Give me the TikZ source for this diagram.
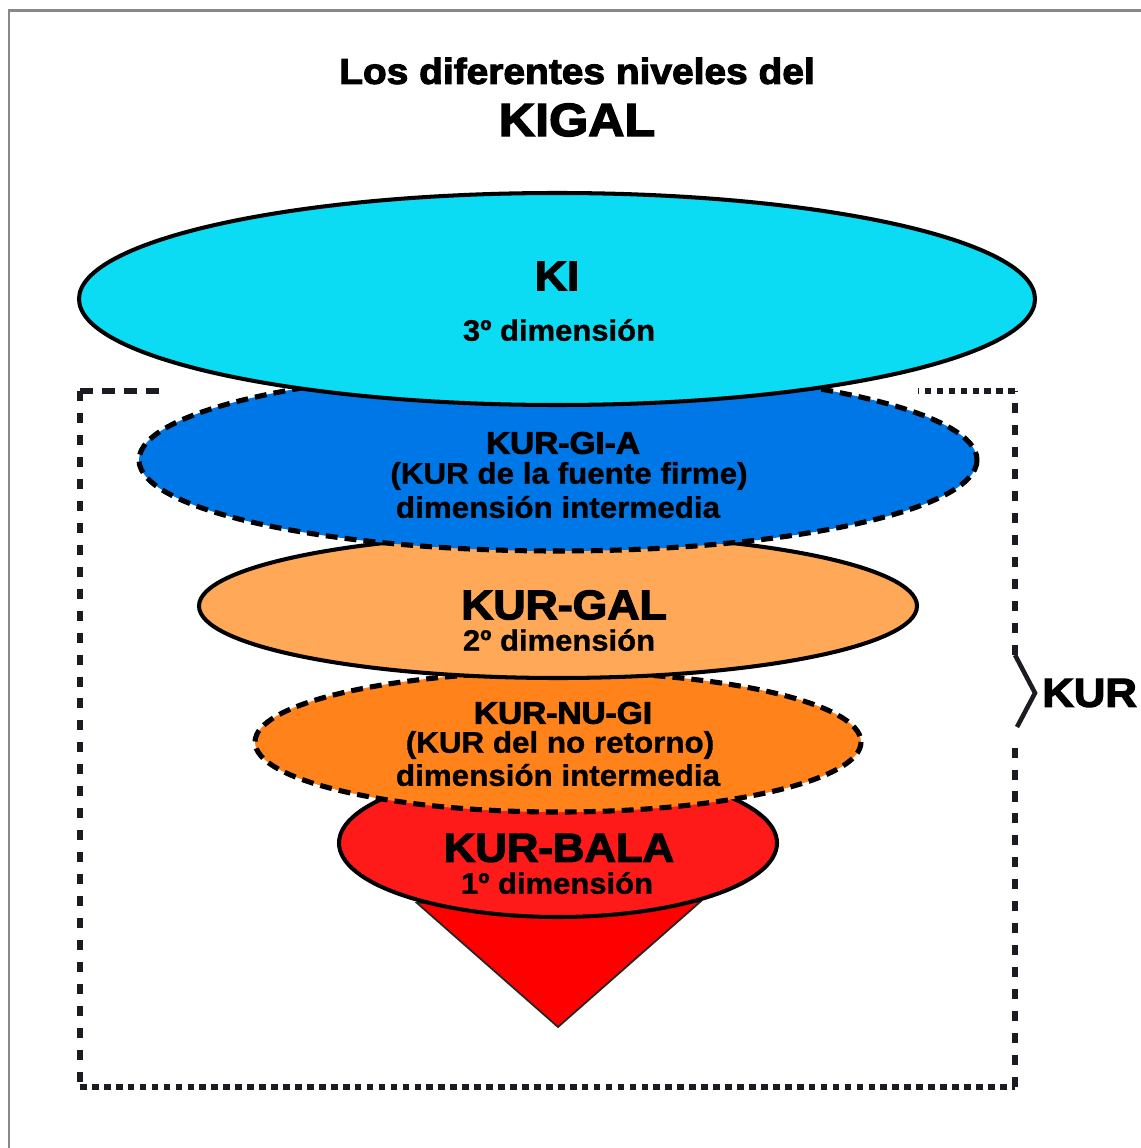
\documentclass[tikz,border=0pt]{standalone}
\usepackage{fontspec}
\setmainfont{Liberation Sans}
\newfontfamily\blk{Liberation Sans}[FakeBold=3,FakeStretch=1.08]
\newfontfamily\subf{Liberation Sans}[FakeBold=1,FakeStretch=1.05]
\definecolor{kicyan}{HTML}{0BDCF4}
\definecolor{kiblue}{HTML}{0077E6}
\definecolor{kipeach}{HTML}{FFA858}
\definecolor{kiorange}{HTML}{FF821A}
\definecolor{kired}{HTML}{FF1A1A}
\definecolor{kitri}{HTML}{FF0000}
\definecolor{boxline}{HTML}{1C1B22}
\definecolor{framegray}{HTML}{888888}
\tikzset{
  solidell/.style={draw=black,line width=2.3pt},
  dashell/.style={draw=black,line width=2.9pt,dash pattern=on 6.8pt off 4pt},
  heavy/.style={inner sep=0pt},
  sub/.style={inner sep=0pt,align=center},
  boxv/.style={draw=boxline,line width=3.2pt,dash pattern=on 5.7pt off 6.8pt},
  boxh/.style={draw=boxline,line width=3.2pt,dash pattern=on 3.8pt off 3pt},
  boxtl/.style={draw=boxline,line width=3.2pt,dash pattern=on 7.5pt off 5pt},
}
\begin{document}
\begin{tikzpicture}[x=0.02cm,y=-0.02cm]
\useasboundingbox (0,0) rectangle (1141,1148);
% frame
\draw[framegray,line width=1.7pt] (9,1148) -- (9,11) -- (1141,11);
% dashed box
\coordinate (btl) at (80,391);
\coordinate (btr) at (1015,391);
\coordinate (bbl) at (80,1087);
\coordinate (bbr) at (1015,1087);
\coordinate (gapl) at (165,391);
\coordinate (gapr) at (918,391);
\coordinate (brA) at (1015,655);
\coordinate (brB) at (1035,693);
\coordinate (brC) at (1017,727);
\coordinate (brD) at (1015,740);
\draw[boxv] (btl) -- (bbl);
\draw[boxh] (bbl) -- (bbr);
\draw[boxv] (bbr) -- (brD);
\draw[boxv] (brA) -- (btr);
\draw[boxh] (btr) -- (gapr);
\draw[boxtl] (btl) -- (gapl);
\draw[boxline,line width=2.6pt] (brA) -- (brB) -- (brC);
\node[heavy,anchor=west,font=\blk\bfseries\fontsize{23pt}{25pt}\selectfont] (kur) at (1042,693) {KUR};
% cone tip
\coordinate (t1) at (417,903);
\coordinate (t2) at (700,902);
\coordinate (t3) at (558,1027);
\draw[fill=kitri,draw=black!85,line width=1pt,line join=miter] (t1) -- (t3) -- (t2) -- cycle;
% ellipses
\draw[solidell,fill=kired] (558,843) ellipse [x radius=219,y radius=74];
\draw[dashell,fill=kiorange] (558,742) ellipse [x radius=303,y radius=70];
\draw[solidell,fill=kipeach] (558,606) ellipse [x radius=359,y radius=72];
\draw[dashell,fill=kiblue] (558,460) ellipse [x radius=419,y radius=91];
\draw[solidell,fill=kicyan] (557,299) ellipse [x radius=478,y radius=106];
% titles
\node[heavy,font=\blk\bfseries\fontsize{20.5pt}{22pt}\selectfont] (t1txt) at (577,71) {Los diferentes niveles del};
\node[heavy,font=\blk\bfseries\fontsize{26.5pt}{28pt}\selectfont] (t2txt) at (577,120) {KIGAL};
% KI
\node[heavy,font=\blk\bfseries\fontsize{23.5pt}{26pt}\selectfont] (ki) at (557,276) {KI};
\node[sub,font=\subf\bfseries\fontsize{16.8pt}{18pt}\selectfont] (kid) at (559,330) {3º dimensión};
% KUR-GI-A
\node[heavy,font=\blk\bfseries\fontsize{17.6pt}{19pt}\selectfont] (gia) at (563,443) {KUR-GI-A};
\node[sub,font=\subf\bfseries\fontsize{17pt}{18pt}\selectfont] (giad) at (569,476) {(KUR de la fuente firme)};
\node[sub,font=\subf\bfseries\fontsize{17pt}{18pt}\selectfont] (giad2) at (558,507) {dimensión intermedia};
% KUR-GAL
\node[heavy,font=\blk\bfseries\fontsize{23.5pt}{26pt}\selectfont] (gal) at (564,605) {KUR-GAL};
\node[sub,font=\subf\bfseries\fontsize{16.8pt}{18pt}\selectfont] (gald) at (559,640) {2º dimensión};
% KUR-NU-GI
\node[heavy,font=\blk\bfseries\fontsize{17.6pt}{19pt}\selectfont] (nugi) at (563,713) {KUR-NU-GI};
\node[sub,font=\subf\bfseries\fontsize{17pt}{18pt}\selectfont] (nugid) at (560,745) {(KUR del no retorno)};
\node[sub,font=\subf\bfseries\fontsize{17pt}{18pt}\selectfont] (nugid2) at (558,775) {dimensión intermedia};
% KUR-BALA
\node[heavy,font=\blk\bfseries\fontsize{23pt}{25pt}\selectfont] (bala) at (559,848) {KUR-BALA};
\node[sub,font=\subf\bfseries\fontsize{16.8pt}{18pt}\selectfont] (balad) at (557,883) {1º dimensión};
\end{tikzpicture}
\end{document}
